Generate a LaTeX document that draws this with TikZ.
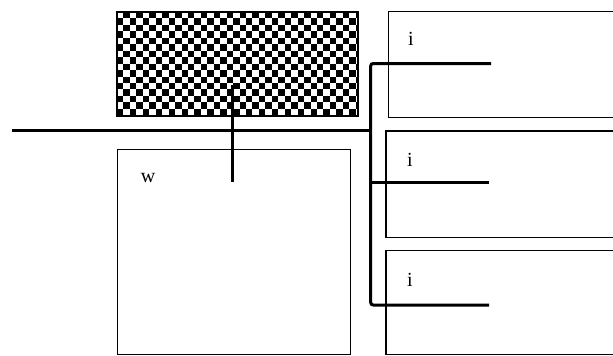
\documentclass[tikz,border=0pt]{standalone}
\usepackage{fontspec}
\setmainfont{Liberation Serif}
\begin{document}
\begin{tikzpicture}[x=1pt,y=-1pt,
  box/.style={draw,line width=1.4pt,anchor=north west,inner sep=0pt,outer sep=0pt},
  bar/.style={line width=3pt},
  cell/.style={fill=black},
  lbl/.style={font=\fontsize{20}{20}\selectfont,inner sep=0pt}]
\useasboundingbox (0,0) rectangle (613,356);
% checkered box
\node[box,line width=2pt,minimum width=241pt,minimum height=104pt,fill=white] (chk) at (117,12) {};
\begin{scope}
  \clip (chk.north west) rectangle (chk.south east);
  \foreach \i in {0,...,18}{\foreach \j in {0,...,8}{
    \fill[cell] ({117+(2*\i+1)*6.45},{12+2*\j*6.45}) rectangle ++(6.45,6.45);
    \fill[cell] ({117+2*\i*6.45},{12+(2*\j+1)*6.45}) rectangle ++(6.45,6.45);
  }}
\end{scope}
\draw[line width=2pt] (chk.north west) rectangle (chk.south east);
% w box
\node[box,minimum width=233.4pt,minimum height=205pt] (wbox) at (117.3,149.3) {};
\node[lbl] (wl) at (148,178) {w};
% right boxes
\node[box,minimum width=240pt,minimum height=105.6pt] (i1) at (388.3,11.7) {};
\node[box,minimum width=240pt,minimum height=106.3pt] (i2) at (386,131) {};
\node[box,minimum width=240pt,minimum height=103.6pt] (i3) at (386,250.7) {};
\node[lbl] (l1) at (411,39) {i};
\node[lbl] (l2) at (410,159.5) {i};
\node[lbl] (l3) at (410,279.5) {i};
% connectors
\coordinate (start) at (12,130.7);
\coordinate (junc) at (370.7,130.7);
\coordinate (top) at (370.7,63.5);
\coordinate (bot) at (370.7,305);
\coordinate (e1) at (491,63.5);
\coordinate (e2) at (489,182.7);
\coordinate (e3) at (489,305);
\coordinate (vt) at (232.7,85);
\coordinate (vb) at (232.7,182);
\draw[bar] (start) -- (junc);
\draw[bar,rounded corners=2.5pt] (e1) -- (top) -- (bot) -- (e3);
\draw[bar] (junc |- e2) -- (e2);
\draw[bar] (vt) -- (vb);
\end{tikzpicture}
\end{document}
